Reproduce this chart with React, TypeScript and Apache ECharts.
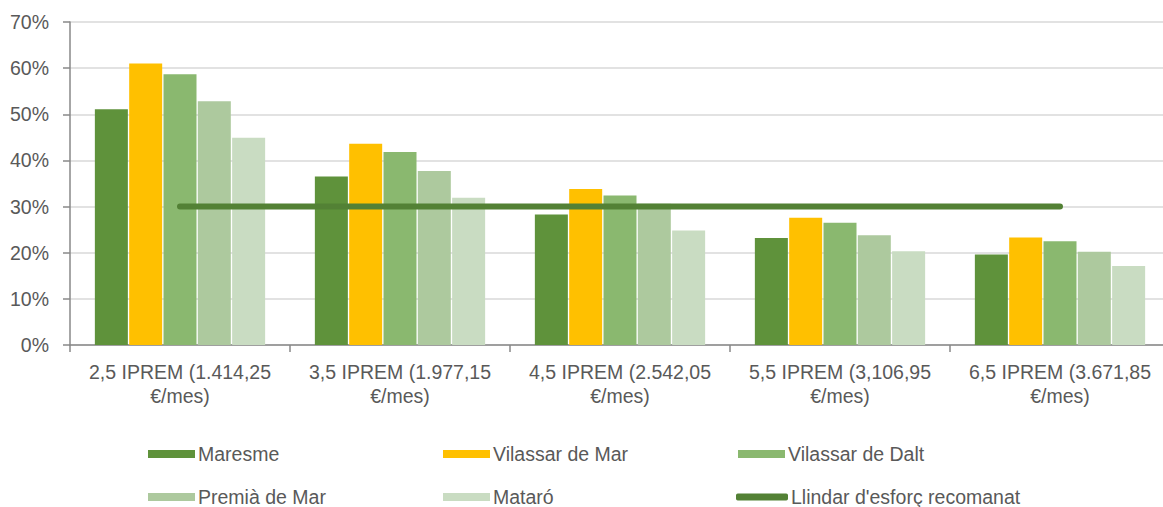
import React, { useEffect, useRef } from "react";
import * as echarts from "echarts";

const categories = [
  "2,5 IPREM (1.414,25\n€/mes)",
  "3,5 IPREM (1.977,15\n€/mes)",
  "4,5 IPREM (2.542,05\n€/mes)",
  "5,5 IPREM (3,106,95\n€/mes)",
  "6,5 IPREM (3.671,85\n€/mes)",
];
const maresme = [51.1, 36.5, 28.3, 23.2, 19.6];
const vilassarMar = [61.0, 43.6, 33.8, 27.6, 23.3];
const vilassarDalt = [58.7, 41.8, 32.4, 26.5, 22.5];
const premia = [52.8, 37.7, 30.6, 23.8, 20.2];
const mataro = [44.9, 31.9, 24.8, 20.3, 17.1];
const llindar = [30, 30, 30, 30, 30];

const names = ["Maresme", "Vilassar de Mar", "Vilassar de Dalt", "Premià de Mar", "Mataró", "Llindar d'esforç recomanat"];
const colors = ["#5F923B", "#FFC000", "#8AB86F", "#ADC99E", "#C9DCC2", "#538135"];

export default function App() {
  const ref = useRef<HTMLDivElement>(null);
  useEffect(() => {
    if (!ref.current) return;
    const chart = echarts.init(ref.current, undefined, { renderer: "svg" });
    const font = "'Liberation Sans', Arial, sans-serif";
    const textStyle = { color: "#595959", fontSize: 19.5, fontFamily: font };
    const barData = [maresme, vilassarMar, vilassarDalt, premia, mataro];
    const legendPos = [
      [148, 443], [443, 443], [738, 443],
      [148, 486], [443, 486], [736, 486],
    ];
    chart.setOption({
      animation: false,
      grid: { left: 70, right: 0, top: 22, bottom: 162 },
      legend: names.map((n, i) => ({
        data: [i === 5 ? { name: n, icon: "roundRect" } : { name: n, icon: "rect" }],
        left: legendPos[i][0],
        top: legendPos[i][1],
        itemWidth: i === 5 ? 52 : 47,
        itemHeight: i === 5 ? 7 : 8,
        itemGap: 0,
        padding: 0,
        textStyle: { ...textStyle, padding: [0, 0, 0, -2], lineHeight: 22 },
        selectedMode: false,
      })),
      xAxis: {
        type: "category",
        data: categories,
        axisLine: { lineStyle: { color: "#898989", width: 1.5 } },
        axisTick: { show: true, length: 7, lineStyle: { color: "#898989", width: 1.5 } },
        axisLabel: { ...textStyle, interval: 0, lineHeight: 24, margin: 15 },
      },
      yAxis: {
        type: "value",
        min: 0,
        max: 70,
        interval: 10,
        axisLine: { show: true, lineStyle: { color: "#898989", width: 1.5 } },
        axisTick: { show: true, length: 7, lineStyle: { color: "#898989", width: 1.5 } },
        axisLabel: { ...textStyle, formatter: "{value}%", margin: 21 },
        splitLine: { lineStyle: { color: "#D9D9D9", width: 1.5 } },
      },
      series: [
        ...barData.map((d, i) => ({
          name: names[i],
          type: "bar",
          data: d,
          barWidth: 33,
          barGap: "4%",
          itemStyle: { color: colors[i] },
        })),
        {
          name: names[5],
          type: "line",
          data: llindar,
          symbol: "none",
          z: 5,
          itemStyle: { color: colors[5] },
          lineStyle: { color: colors[5], width: 6, cap: "round" },
        },
      ],
    });
    return () => chart.dispose();
  }, []);
  return (
    <div style={{ position: "fixed", left: 0, top: 0, width: 1163, height: 507, overflow: "hidden", background: "#fff" }}>
      <div ref={ref} style={{ width: 1170, height: 507 }} />
    </div>
  );
}
